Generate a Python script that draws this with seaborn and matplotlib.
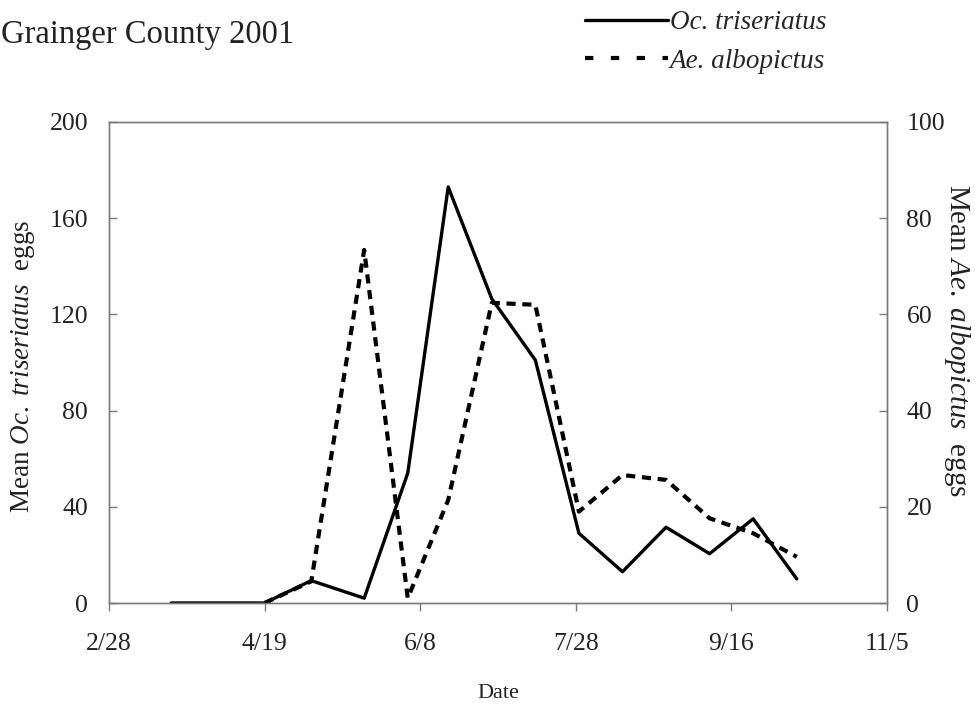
import matplotlib
matplotlib.use("Agg")
import matplotlib.pyplot as plt
import seaborn as sns
import pandas as pd
from matplotlib.lines import Line2D

# ---- data ----
oc_dates = ["2001-03-20", "2001-04-19", "2001-05-04", "2001-05-21", "2001-06-04",
            "2001-06-17", "2001-07-01", "2001-07-15", "2001-07-29", "2001-08-12",
            "2001-08-26", "2001-09-09", "2001-09-23", "2001-10-07"]
oc_eggs = [0, 0, 9.3, 2, 54, 173, 126.5, 101, 29, 13, 31.5, 20.5, 35, 10]

ae_dates = ["2001-04-19", "2001-05-04", "2001-05-21", "2001-06-04",
            "2001-06-17", "2001-07-01", "2001-07-15", "2001-07-29", "2001-08-12",
            "2001-08-26", "2001-09-09", "2001-09-23", "2001-10-07"]
ae_eggs = [0, 4.5, 73.4, 1, 21.4, 62.4, 62, 19, 26.6, 25.6, 17.6, 14.5, 9.6]

tick_dates = ["2001-02-28", "2001-04-19", "2001-06-08", "2001-07-28", "2001-09-16", "2001-11-05"]
tick_labels = ["2/28", "4/19", "6/8", "7/28", "9/16", "11/5"]
left_ticks = [0, 40, 80, 120, 160, 200]
right_ticks = [0, 20, 40, 60, 80, 100]

sns.set_theme(style="white")
plt.rcParams["font.family"] = ["Liberation Serif", "DejaVu Serif"]
plt.rcParams["mathtext.fontset"] = "custom"
plt.rcParams["mathtext.rm"] = "Liberation Serif"
plt.rcParams["mathtext.it"] = "Liberation Serif:italic"

oc = pd.DataFrame({"date": pd.to_datetime(oc_dates), "eggs": oc_eggs})
ae = pd.DataFrame({"date": pd.to_datetime(ae_dates), "eggs": ae_eggs})

fig = plt.figure(figsize=(9.75, 7.04), dpi=100)
ax = fig.add_axes([109 / 975, 1 - 603 / 704, 778 / 975, 481 / 704])
ax2 = ax.twinx()

sns.lineplot(data=oc, x="date", y="eggs", ax=ax, color="black", linewidth=2.4)
sns.lineplot(data=ae, x="date", y="eggs", ax=ax2, color="black", linewidth=3.0,
             linestyle=(0, (2.2, 1.6)))

ax.set_xlim(pd.Timestamp(tick_dates[0]), pd.Timestamp(tick_dates[-1]))
ax.set_ylim(0, 200)
ax2.set_ylim(0, 100)
ax.set_xticks(pd.to_datetime(tick_dates))
ax.set_xticklabels(tick_labels)
ax.set_yticks(left_ticks)
ax2.set_yticks(right_ticks)

spine_col = "#7a7a7a"
for a in (ax, ax2):
    for s in a.spines.values():
        s.set_color(spine_col)
        s.set_linewidth(1.0)
        s.set_visible(True)
ax.tick_params(axis="x", direction="out", length=5.5, width=1, color=spine_col,
               labelsize=18.5, pad=16, bottom=True)
ax.tick_params(axis="y", direction="in", length=5.5, width=1, color=spine_col,
               labelsize=18.5, pad=15, left=True)
ax2.tick_params(axis="y", direction="in", length=5.5, width=1, color=spine_col,
                labelsize=18.5, pad=14, right=True)
for t in ax.get_xticklabels() + ax.get_yticklabels() + ax2.get_yticklabels():
    t.set_color("#222222")

ax.set_xlabel("Date", fontsize=16, labelpad=21, color="#222222")
ax.set_ylabel(r"Mean $\mathit{Oc.\ triseriatus}$  eggs", fontsize=19.5,
              va="center", color="#222222")
ax.yaxis.set_label_coords(-0.110, 0.493)
ax2.set_ylabel(r"Mean $\mathit{Ae.\ albopictus}$  eggs", fontsize=21,
               rotation=270, va="center", color="#222222")
ax2.yaxis.set_label_coords(1.090, 0.545)

fig.text(1 / 975, 1 - 43 / 704, "Grainger County 2001", fontsize=23.5,
         ha="left", va="baseline", color="#222222")

handles = [Line2D([], [], color="black", linewidth=2.4),
           Line2D([], [], color="black", linewidth=3.0, linestyle=(0, (2.0, 4.2)))]
fig.legend(handles, ["Oc. triseriatus", "Ae. albopictus"],
           loc="upper left", bbox_to_anchor=(585 / 975, 1 - 10 / 704),
           frameon=False, handlelength=3.05, handletextpad=0.08, borderpad=0,
           borderaxespad=0, labelspacing=0.5,
           prop={"family": "Liberation Serif", "style": "italic", "size": 19.5})

fig.savefig("out.png", dpi=100)
